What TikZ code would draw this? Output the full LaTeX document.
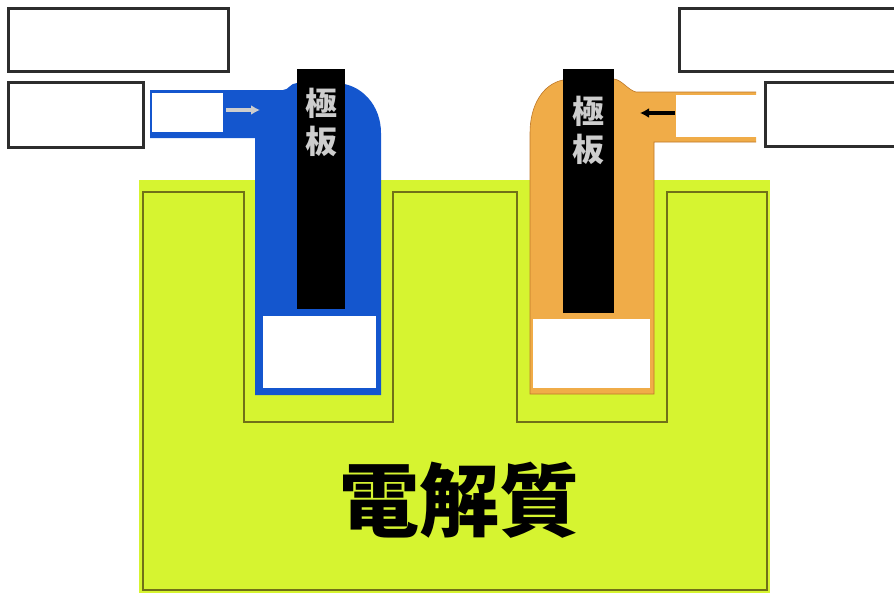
\documentclass[tikz,border=0pt]{standalone}
\usepackage{fontspec}
\usetikzlibrary{arrows.meta}
\newfontfamily\jpfont{Noto Sans CJK JP}
\definecolor{electrolyte}{RGB}{214,244,48}
\definecolor{wallline}{RGB}{112,112,24}
\definecolor{anodeblue}{RGB}{20,86,206}
\definecolor{cathodeorange}{RGB}{240,172,72}
\definecolor{orangeline}{RGB}{190,120,40}
\definecolor{boxgray}{RGB}{45,45,45}
\definecolor{plategray}{RGB}{205,205,205}

\tikzset{
	answerbox/.style={draw=boxgray, line width=3pt, fill=white, inner sep=0pt},
	platetext/.style={font=\jpfont\bfseries\fontsize{32}{38}\selectfont, text=plategray, align=center, inner sep=0pt},
	flowarrow/.style={-{Latex[length=9pt,width=10pt]}, line width=3.2pt},
}

\begin{document}
\begin{tikzpicture}[x=1pt, y=-1pt]
	\useasboundingbox (0,0) rectangle (894,595);

	% electrolyte tank
	\fill [electrolyte] (139,180) rectangle (770,593);
	\draw [wallline, line width=1.2pt] (143,590) -- (143,192) -- (244,192) -- (244,422)
		-- (393,422) -- (393,192) -- (517,192) -- (517,422) -- (667,422)
		-- (667,192) -- (767,192) -- (767,590) -- cycle;
	\node [font=\jpfont\bfseries\fontsize{80}{80}\selectfont, inner sep=0pt] (elec) at (459,500) {電解質};

	% left electrode (blue)
	\fill [anodeblue] (150,90) -- (283,90) .. controls (289,90) and (290,83) .. (297,83)
		-- (335,83) .. controls (361,83) and (381,105) .. (381,133)
		-- (381,395) -- (255,395) -- (255,138) -- (150,138) -- cycle;
	\fill [white] (152,93) rectangle (223,132);
	\fill [white] (263,316) rectangle (376,388);
	\fill [black] (297,69) rectangle (345,309);
	\node [platetext] (plateL) at (321,122) {極\\板};
	\coordinate (inL) at (226,110);
	\coordinate (inLend) at (260,110);
	\draw [flowarrow, plategray] (inL) -- (inLend);

	% right electrode (orange)
	\filldraw [fill=cathodeorange, draw=orangeline, line width=0.6pt] (756,92) -- (636,92)
		.. controls (628,90) and (622,80) .. (614,79)
		-- (563,80) .. controls (543,84) and (530,105) .. (530,133)
		-- (530,394) -- (654,394) -- (654,142) -- (756,142);
	\fill [white] (676,95) rectangle (757,137);
	\fill [white] (533,319) rectangle (650,388);
	\fill [black] (563,69) rectangle (614,313);
	\node [platetext] (plateR) at (588,130) {極\\板};
	\coordinate (inR) at (675,113);
	\coordinate (inRend) at (640,113);
	\draw [flowarrow, black] (inR) -- (inRend);

	% empty answer boxes
	\node [answerbox, minimum width=220pt, minimum height=63pt] (boxTL) at (118,39.5) {};
	\node [answerbox, minimum width=135pt, minimum height=65pt] (boxML) at (75.5,114.5) {};
	\node [answerbox, minimum width=230pt, minimum height=63pt] (boxTR) at (794,39.5) {};
	\node [answerbox, minimum width=145pt, minimum height=64pt] (boxMR) at (837.5,114) {};
\end{tikzpicture}
\end{document}
